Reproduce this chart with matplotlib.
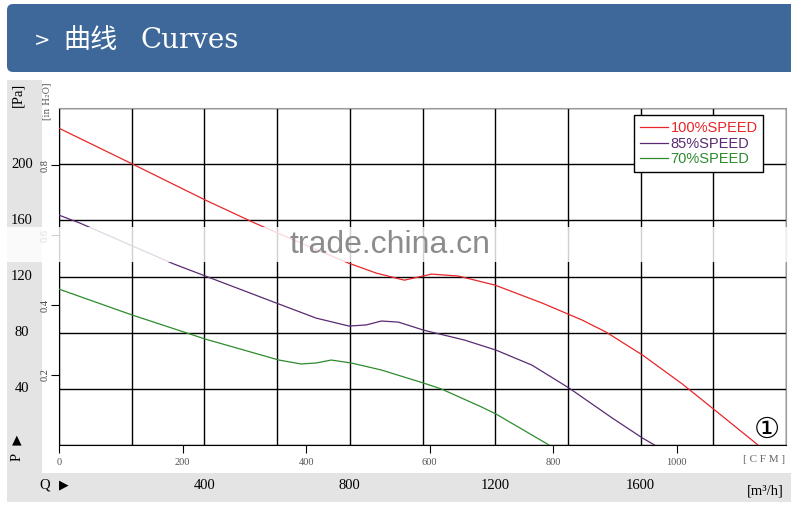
import numpy as np
import matplotlib
matplotlib.use('Agg')
import matplotlib.pyplot as plt
from matplotlib.patches import Rectangle, FancyBboxPatch
from matplotlib.transforms import IdentityTransform, blended_transform_factory

# Curve data: airflow [m3/h], static pressure [Pa]
q100 = [0, 202, 403, 539, 666, 796, 873, 950, 1025, 1099, 1199, 1329, 1439, 1505, 1605, 1715, 1804, 1923]
p100 = [225.6, 200.1, 174.4, 158.0, 143.8, 129.6, 122.4, 117.4, 121.7, 120.3, 113.9, 101.1, 89.0, 80.4, 64.1, 43.4, 24.9, 0]

q85 = [0, 58, 315, 403, 605, 707, 798, 845, 887, 934, 1003, 1116, 1202, 1301, 1403, 1522, 1605, 1638]
p85 = [163.7, 158.0, 129.0, 120.3, 100.4, 90.4, 84.7, 85.5, 88.3, 87.5, 81.8, 74.7, 67.6, 56.9, 40.6, 19.2, 5.0, 0]

q70 = [0, 202, 403, 605, 666, 707, 749, 804, 887, 1003, 1052, 1163, 1202, 1348]
p70 = [111.0, 92.5, 75.4, 60.5, 57.7, 58.4, 60.5, 58.4, 53.4, 44.1, 39.9, 27.0, 22.1, 0]

labels = ['100%SPEED', '85%SPEED', '70%SPEED']
colors = ['#e8262a', '#5a2a72', '#2e8b2e']

pa_ticks = [40, 80, 120, 160, 200]
m3h_ticks = [400, 800, 1200, 1600]
cfm_ticks = [0, 200, 400, 600, 800, 1000]
inh2o_ticks = [0.2, 0.4, 0.6, 0.8]

W, H = 791, 511
fig = plt.figure(figsize=(W / 100, H / 100), dpi=100)
fx = lambda px: px / W
fy = lambda py: 1 - py / H

# header bar
fig.add_artist(FancyBboxPatch((7, H - 72), 820, 68, boxstyle='round,pad=0,rounding_size=6',
                              transform=IdentityTransform(), facecolor='#3d6899', edgecolor='none'))
fig.text(fx(34), fy(40), '>', color='white', fontsize=14, family='DejaVu Sans', va='center')
fig.text(fx(63), fy(40), '曲线', color='white', fontsize=19.5, family='Noto Sans CJK SC', va='center')
fig.text(fx(141), fy(41), 'Curves', color='white', fontsize=20, family='DejaVu Serif', va='center')

# grey label bands
fig.add_artist(Rectangle((fx(7), fy(473)), fx(35), fy(80) - fy(473), transform=fig.transFigure,
                         facecolor='#e4e4e4', edgecolor='none', zorder=0))
fig.add_artist(Rectangle((fx(7), fy(502)), fx(784), fy(473) - fy(502), transform=fig.transFigure,
                         facecolor='#e4e4e4', edgecolor='none', zorder=0))

ax = fig.add_axes([fx(59), fy(445), fx(786) - fx(59), fy(108) - fy(445)])
ax.set_xlim(0, 2000)
ax.set_ylim(0, 240)
ax.set_xticks(np.arange(0, 2001, 200))
ax.set_yticks(np.arange(0, 241, 40))
ax.tick_params(length=0, labelbottom=False, labelleft=False)
ax.grid(True, color='black', linewidth=1.0)
for s in ['top', 'right']:
    ax.spines[s].set_color('#9a9a9a')
for s in ['left', 'bottom']:
    ax.spines[s].set_color('black')

for q, p, c, lab in zip([q100, q85, q70], [p100, p85, p70], colors, labels):
    ax.plot(q, p, color=c, linewidth=0.9, label=lab, zorder=3)

leg = ax.legend(loc='upper left', bbox_to_anchor=(0.791, 0.979), borderaxespad=0,
                fancybox=False, edgecolor='black', framealpha=1, handlelength=1.9,
                handletextpad=0.2, borderpad=0.4, labelspacing=0.12,
                prop={'family': 'Liberation Sans', 'size': 10.5}, labelcolor=colors)
leg.get_frame().set_linewidth(1.0)

# CFM secondary axis
sec_x = ax.secondary_xaxis('bottom', functions=(lambda m: m / 1.699, lambda c: c * 1.699))
sec_x.set_xticks(cfm_ticks)
sec_x.tick_params(direction='out', length=6, width=0.8, labelsize=7.5, labelcolor='#555555', pad=3)
for t in sec_x.get_xticklabels():
    t.set_family('Liberation Serif')
sec_x.spines['bottom'].set_visible(False)

# in H2O secondary axis
sec_y = ax.secondary_yaxis('left', functions=(lambda p: p / 249.09, lambda i: i * 249.09))
sec_y.set_yticks(inh2o_ticks)
sec_y.set_yticklabels(['0.2', '0.4', '0.6', '0.8'])
sec_y.tick_params(direction='out', length=6, width=0.8, labelsize=7.5, labelcolor='#444444', pad=1)
for t in sec_y.get_yticklabels():
    t.set_rotation(90)
    t.set_family('Liberation Serif')
    t.set_va('center')
sec_y.spines['left'].set_visible(False)

# Pa labels in left band
ty = blended_transform_factory(fig.transFigure, ax.transData)
for v in pa_ticks:
    fig.text(fx(22), v, str(v), transform=ty, ha='center', va='center', fontsize=10.5,
             family='Liberation Serif')
# m3/h labels in bottom band
tx = blended_transform_factory(ax.transData, fig.transFigure)
for v in m3h_ticks:
    fig.text(v, fy(485), str(v), transform=tx, ha='center', va='center', fontsize=10.5,
             family='Liberation Serif')

fig.text(fx(18), fy(95), '[Pa]', rotation=90, ha='center', va='center', fontsize=10.5, family='Liberation Serif')
fig.text(fx(17), fy(440), '▲', ha='center', va='center', fontsize=9, family='DejaVu Sans')
fig.text(fx(17), fy(457), 'P', rotation=90, ha='center', va='center', fontsize=10.5, family='Liberation Serif')
fig.text(fx(45), fy(485), 'Q', ha='center', va='center', fontsize=10.5, family='Liberation Serif')
fig.text(fx(64), fy(485), '▶', ha='center', va='center', fontsize=9, family='DejaVu Sans')
fig.text(fx(765), fy(491), '[m³/h]', ha='center', va='center', fontsize=10.5, family='Liberation Serif')
fig.text(fx(764), fy(460), '[ C F M ]', ha='center', va='center', fontsize=8, color='#666666', family='Liberation Serif')
fig.text(fx(47), fy(101), '[in H₂O]', rotation=90, ha='center', va='center', fontsize=6.5, color='#555555',
         family='DejaVu Serif')
fig.text(fx(767), fy(430), '①', ha='center', va='center', fontsize=21, family=['DejaVu Sans', 'Noto Sans CJK SC'])

# watermark band
fig.add_artist(Rectangle((0, fy(262)), 1, fy(227) - fy(262), transform=fig.transFigure,
                         facecolor='white', edgecolor='none', alpha=0.82, zorder=5))
fig.text(fx(290), fy(245), 'trade.china.cn', ha='left', va='center', fontsize=23, color='#8c8c8c',
         family='Liberation Sans', zorder=6)

fig.savefig('out.png', dpi=100)
